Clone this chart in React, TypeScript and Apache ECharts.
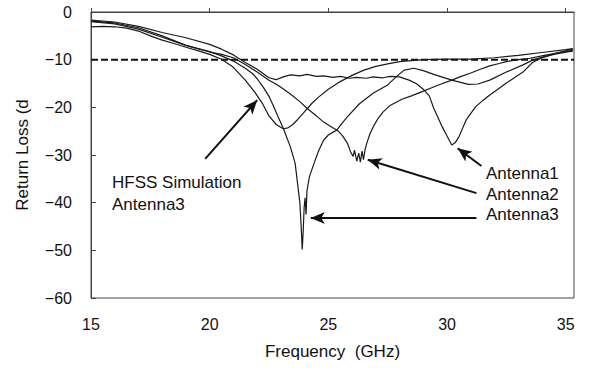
import React, { useEffect, useRef } from "react";
import * as echarts from "echarts";

// Frequency (GHz) vs return loss (dB)
const hfssSim: [number, number][] = [
  [15, -3.1], [15.5, -3.0], [16, -3.1], [16.5, -3.4], [17, -4.0], [17.5, -5.0], [18, -5.9],
  [18.5, -6.6], [19, -7.4], [19.5, -8.1], [20, -8.9], [20.5, -9.9], [21, -11.6], [21.5, -14.3],
  [21.9, -16.8], [22.2, -19.0], [22.5, -21.8], [22.8, -23.6], [23.1, -24.5], [23.3, -24.3],
  [23.5, -23.6], [23.7, -22.6], [24.0, -20.9], [24.3, -19.2], [24.6, -17.8], [25.0, -16.2],
  [25.5, -14.6], [26.0, -13.3], [26.5, -12.2], [27.0, -11.4], [27.5, -10.9], [28.0, -10.4],
  [29.0, -10.0], [30.0, -9.9], [31.0, -9.9], [32.0, -9.6], [33.0, -9.1], [34.0, -8.5],
  [35.0, -7.9], [35.3, -7.7],
];

const antenna1: [number, number][] = [
  [15, -1.7], [16, -2.1], [17, -3.0], [18, -4.3], [19, -5.4], [20, -6.8], [20.5, -7.8],
  [21, -9.0], [21.5, -10.6], [22, -12.0], [22.5, -13.8], [22.8, -14.2], [23.1, -13.6],
  [23.4, -13.2], [23.8, -13.4], [24.1, -13.1], [24.5, -13.5], [24.8, -13.4], [25.2, -13.7],
  [25.5, -13.5], [25.9, -13.9], [26.2, -13.7], [26.6, -13.9], [26.9, -13.6], [27.3, -13.8],
  [27.6, -13.5], [28.0, -13.6], [28.4, -14.3], [28.7, -15.0], [29.0, -16.2], [29.25, -17.6],
  [29.45, -20.3], [29.8, -24.1], [30.0, -26.0], [30.2, -27.9], [30.35, -27.4], [30.5, -26.2],
  [30.8, -22.7], [31.2, -19.9], [31.5, -18.6], [31.8, -17.4], [32.2, -16.0], [32.5, -14.9],
  [32.9, -13.6], [33.2, -12.6], [33.6, -10.6], [34.0, -9.6], [34.5, -8.9], [35.0, -8.4],
  [35.3, -8.2],
];

const antenna2: [number, number][] = [
  [15, -1.9], [16, -2.3], [17, -3.3], [18, -5.0], [19, -7.0], [20, -8.4], [20.5, -8.9],
  [21, -9.6], [21.5, -11.0], [22, -12.6], [22.5, -14.3], [22.75, -15.0], [23.0, -15.8],
  [23.4, -17.2], [23.8, -18.8], [24.1, -20.2], [24.5, -21.8], [24.8, -23.1], [25.1, -24.0],
  [25.4, -24.9], [25.6, -26.0], [25.8, -27.5], [25.95, -29.5], [26.05, -30.3], [26.1, -29.0],
  [26.2, -31.3], [26.28, -29.6], [26.35, -31.5], [26.42, -29.2], [26.48, -31.0], [26.55, -28.8],
  [26.62, -27.5], [26.75, -25.6], [26.9, -24.0], [27.1, -22.3], [27.3, -21.0], [27.6, -19.6],
  [28.1, -18.3], [28.5, -17.6], [28.9, -16.8], [29.3, -16.0], [29.7, -15.2], [30.2, -14.3],
  [30.6, -13.5], [31.0, -12.8], [31.4, -12.0], [31.8, -11.3], [32.2, -10.8], [32.5, -10.4],
  [33.0, -10.0], [33.5, -9.7], [34.0, -9.2], [34.5, -8.7], [35.0, -8.3], [35.3, -8.0],
];

const antenna3: [number, number][] = [
  [15, -2.0], [16, -2.5], [17, -3.6], [18, -5.3], [19, -7.0], [20, -8.3], [20.5, -9.2],
  [21, -10.3], [21.5, -11.8], [21.8, -12.9], [22.0, -14.0], [22.25, -15.7], [22.5, -17.7],
  [22.7, -19.9], [22.9, -22.2], [23.1, -24.4], [23.4, -28.3], [23.6, -31.7], [23.72, -36.7],
  [23.8, -40.0], [23.86, -45.5], [23.9, -49.8], [23.94, -46.0], [23.98, -41.0], [24.02, -39.0],
  [24.06, -42.5], [24.1, -37.5], [24.2, -34.6], [24.4, -31.7], [24.6, -29.0], [24.8, -26.9],
  [25.0, -25.8], [25.2, -25.2], [25.35, -24.8], [25.6, -23.2], [25.8, -22.0], [26.3, -19.3],
  [26.9, -17.0], [27.5, -15.3], [27.9, -13.4], [28.2, -12.2], [28.6, -11.8], [29.0, -12.3],
  [29.5, -13.2], [30.2, -14.3], [30.9, -15.2], [31.3, -15.1], [31.8, -14.3], [32.5, -12.6],
  [33.2, -11.1], [33.6, -10.1], [34.2, -9.2], [34.7, -8.5], [35.3, -7.8],
];

const threshold: [number, number][] = [[15, -10], [35.35, -10]];

const xTicks = [15, 20, 25, 30, 35];
const yTicks = [0, -10, -20, -30, -40, -50, -60];

// arrows: [tail, head] in data coordinates
const arrows: [[number, number], [number, number]][] = [
  [[19.81, -30.8], [22.0, -18.5]],
  [[31.45, -32.3], [30.45, -28.6]],
  [[31.24, -38.0], [26.66, -31.0]],
  [[31.24, -43.2], [24.26, -43.2]],
];

const FONT = "'Liberation Sans', Arial, Helvetica, sans-serif";

export default function App() {
  const ref = useRef<HTMLDivElement>(null);
  useEffect(() => {
    if (!ref.current) return;
    const chart = echarts.init(ref.current, undefined, { renderer: "svg" });
    const lineStyle = { color: "#1a1a1a", width: 1.2 };
    const mkLine = (name: string, data: [number, number][]) => ({
      name,
      type: "line",
      data,
      showSymbol: false,
      symbol: "none",
      lineStyle,
      silent: true,
      z: 3,
    });
    chart.setOption({
      animation: false,
      backgroundColor: "#ffffff",
      grid: {
        left: 91,
        right: 18,
        top: 12,
        bottom: 72,
        show: true,
        borderColor: "#444",
        borderWidth: 1,
      },
      xAxis: {
        type: "value",
        min: xTicks[0],
        max: 35.35,
        interval: 5,
        name: "Frequency  (GHz)",
        nameLocation: "middle",
        nameGap: 45,
        nameTextStyle: { fontSize: 17, fontFamily: FONT, color: "#111" },
        axisLine: { show: true, lineStyle: { color: "#444" } },
        axisTick: { show: true, inside: true, length: 4, lineStyle: { color: "#444" } },
        splitLine: { show: false },
        axisLabel: {
          fontSize: 16,
          fontFamily: FONT,
          color: "#111",
          margin: 18,
          showMaxLabel: false,
          formatter: (v: number) => (xTicks.includes(v) ? String(v) : ""),
        },
      },
      yAxis: {
        type: "value",
        min: yTicks[yTicks.length - 1],
        max: yTicks[0],
        interval: 10,
        name: "Return Loss (d",
        nameLocation: "middle",
        nameRotate: 90,
        nameGap: 60,
        nameTextStyle: { fontSize: 17, fontFamily: FONT, color: "#111" },
        axisLine: { show: true, lineStyle: { color: "#444" } },
        axisTick: { show: true, inside: true, length: 5, lineStyle: { color: "#444" } },
        splitLine: { show: false },
        axisLabel: {
          fontSize: 16,
          fontFamily: FONT,
          color: "#111",
          margin: 19,
          formatter: (v: number) => String(v).replace("-", "\u2212"),
        },
      },
      series: [
        mkLine("HFSS Simulation Antenna3", hfssSim),
        mkLine("Antenna1", antenna1),
        mkLine("Antenna2", antenna2),
        mkLine("Antenna3", antenna3),
        {
          name: "-10 dB",
          type: "line",
          data: threshold,
          showSymbol: false,
          symbol: "none",
          silent: true,
          lineStyle: { color: "#111", width: 2, type: [7, 3] },
          z: 2,
          markLine: {
            silent: true,
            animation: false,
            symbol: ["none", "arrow"],
            symbolSize: [9, 14],
            label: { show: false },
            lineStyle: { color: "#111", width: 2, type: "solid" },
            data: arrows.map(([a, b]) => [{ coord: a }, { coord: b }]),
          },
        },
      ],
      graphic: [
        { type: "text", x: 112, y: 182, style: { text: "HFSS Simulation", fontSize: 17, fontFamily: FONT, fill: "#111", verticalAlign: "middle" } },
        { type: "text", x: 112, y: 204, style: { text: "Antenna3", fontSize: 17, fontFamily: FONT, fill: "#111", verticalAlign: "middle" } },
        { type: "text", x: 486, y: 173, style: { text: "Antenna1", fontSize: 17, fontFamily: FONT, fill: "#111", verticalAlign: "middle" } },
        { type: "text", x: 486, y: 194, style: { text: "Antenna2", fontSize: 17, fontFamily: FONT, fill: "#111", verticalAlign: "middle" } },
        { type: "text", x: 486, y: 214, style: { text: "Antenna3", fontSize: 17, fontFamily: FONT, fill: "#111", verticalAlign: "middle" } },
      ],
    });
    return () => chart.dispose();
  }, []);
  return (
    <div
      ref={ref}
      style={{ position: "absolute", left: 0, top: 0, width: 592, height: 370, background: "#fff" }}
    />
  );
}
